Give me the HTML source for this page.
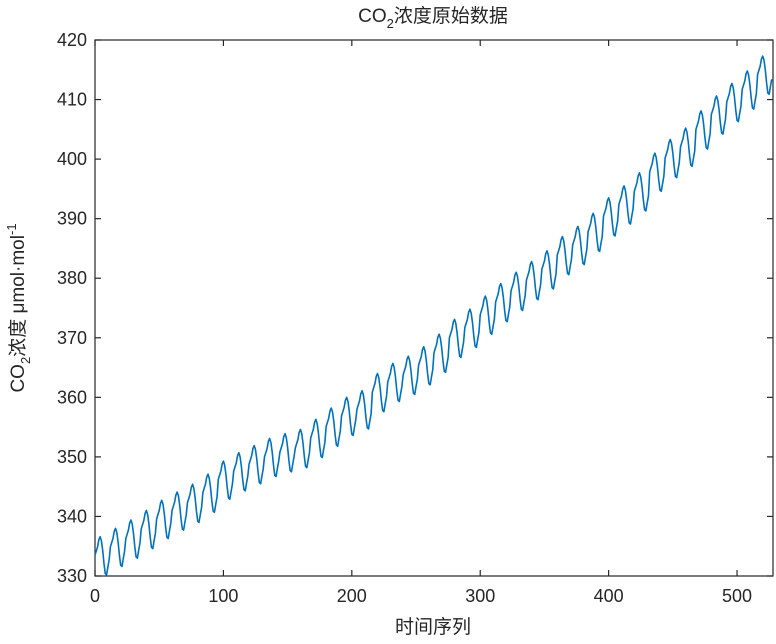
<!DOCTYPE html>
<html><head><meta charset="utf-8"><style>
body{margin:0;background:#fff;}
svg{display:block;font-family:"Liberation Sans","Noto Sans CJK SC",sans-serif;}
</style></head><body>
<svg id="chart" width="776" height="644">
<rect x="0" y="0" width="776" height="644" fill="#fff"/>
<text x="433" y="22" text-anchor="middle" font-size="19" fill="#262626">CO<tspan font-size="13" dy="6">2</tspan><tspan dy="-6">浓度原始数据</tspan></text>
<text x="433" y="633" text-anchor="middle" font-size="19" fill="#262626">时间序列</text>
<text transform="translate(24,308) rotate(-90)" text-anchor="middle" font-size="19" fill="#262626">CO<tspan font-size="13" dy="6">2</tspan><tspan dy="-6">浓度 μmol·mol</tspan><tspan font-size="13" dy="-8">-1</tspan></text>
<g id="axes"></g>
<g id="plot"></g>
</svg>
<script>
const yearMeans=[333.5,334.9,336.3,337.9,339.6,341.0,342.3,344.0,346.2,347.6,348.8,350.0,350.8,351.5,353.2,355.1,356.9,358.0,360.9,362.6,363.8,365.4,367.5,370.0,371.7,373.9,376.0,377.9,379.7,381.5,383.9,385.6,387.8,390.4,392.4,394.6,397.9,400.2,402.1,405.0,407.5,409.6,411.7,414.2];
const monthOffsets=[0.0,0.7,1.4,2.6,3.1,2.4,0.8,-1.4,-3.1,-3.3,-2.0,-0.8];
const xTicks=[0,100,200,300,400,500];
const yTicks=[330,340,350,360,370,380,390,400,410,420];
const L=95,R=773,T=40,B=576,XMAX=528,YMIN=330,YMAX=420;
const sx=v=>L+(v/XMAX)*(R-L);
const sy=v=>B-(v-YMIN)/(YMAX-YMIN)*(B-T);
const NS="http://www.w3.org/2000/svg";
const axes=document.getElementById('axes'),plot=document.getElementById('plot');
function mk(tag,attrs,parent){const e=document.createElementNS(NS,tag);for(const k in attrs)e.setAttribute(k,attrs[k]);parent.appendChild(e);return e;}
const frame=mk('rect',{x:L,y:T,width:R-L,height:B-T,fill:'none',stroke:'#262626','stroke-width':1.2},axes);


xTicks.forEach(t=>{const x=sx(t);
 mk('line',{x1:x,x2:x,y1:B,y2:B-6,stroke:'#262626','stroke-width':1.2},axes);
 mk('line',{x1:x,x2:x,y1:T,y2:T+6,stroke:'#262626','stroke-width':1.2},axes);
 const tx=mk('text',{x:x,y:B+26,'text-anchor':'middle','font-size':18,fill:'#262626'},axes);tx.textContent=t;
 
 
});
yTicks.forEach(t=>{const y=sy(t);
 mk('line',{x1:L,x2:L+6,y1:y,y2:y,stroke:'#262626','stroke-width':1.2},axes);
 mk('line',{x1:R,x2:R-6,y1:y,y2:y,stroke:'#262626','stroke-width':1.2},axes);
 const tx=mk('text',{x:L-8,y:y+6,'text-anchor':'end','font-size':18,fill:'#262626'},axes);tx.textContent=t;
 
 
});
const values=[];
yearMeans.forEach(m=>monthOffsets.forEach(o=>values.push(m+o)));
let d='';
values.forEach((v,i)=>{d+=(i?'L':'M')+sx(i).toFixed(2)+','+sy(v).toFixed(2);});
const line=mk('path',{d:d,fill:'none',stroke:'#0072BD','stroke-width':1.6,'stroke-linejoin':'round'},plot);


</script>
</body></html>
